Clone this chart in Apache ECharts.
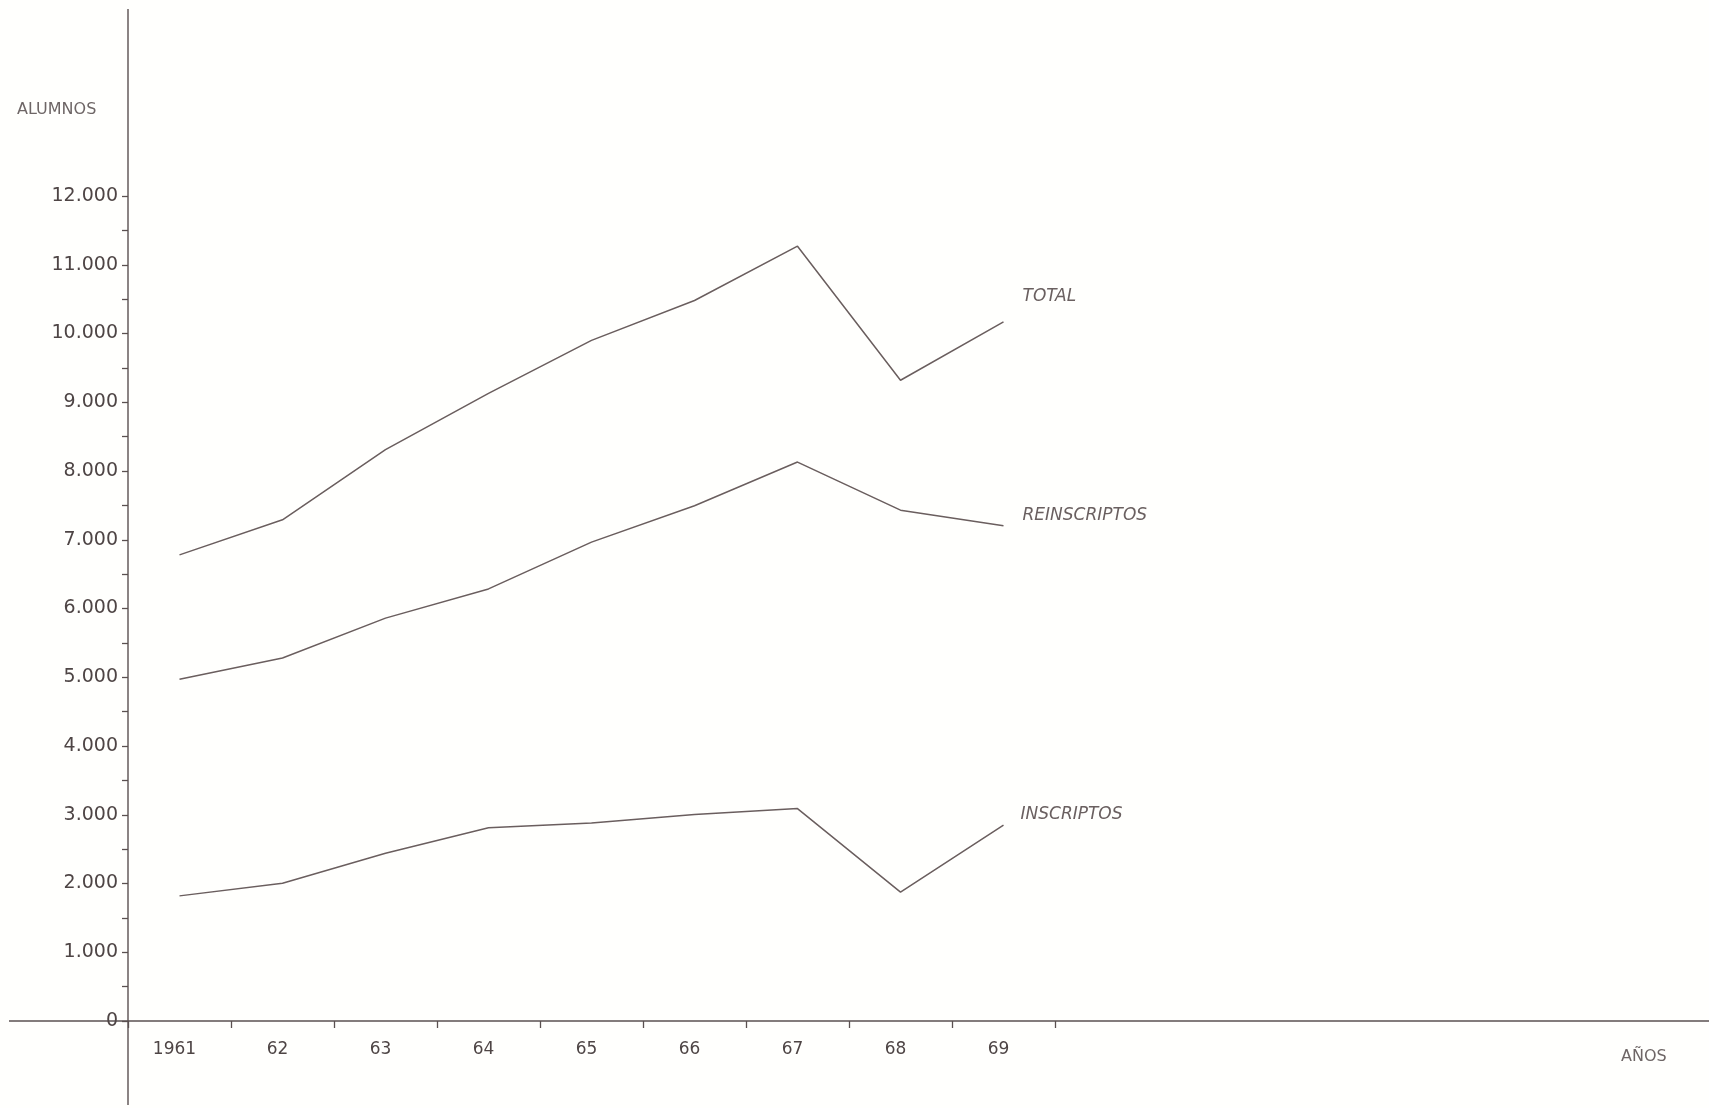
<!DOCTYPE html>
<html><head><meta charset="utf-8">
<script src="https://cdn.jsdelivr.net/npm/echarts/dist/echarts.min.js"></script>
<style>html,body{margin:0;padding:0;background:#fffffd;} #c{width:1709px;height:1108px;}</style>
</head><body><div id="c"></div>
<script>
const years = ['1961','62','63','64','65','66','67','68','69'];
const total = [6780,7290,8310,9130,9900,10480,11270,9320,10170];
const reinscriptos = [4970,5280,5860,6285,6965,7495,8130,7430,7205];
const inscriptos = [1820,2005,2440,2810,2880,3005,3090,1875,2850];
const seriesNames = ['TOTAL','REINSCRIPTOS','INSCRIPTOS'];
const yMin = 0, yMax = 12000, yStep = 1000;

const ink = '#5a5050';
const font = '"DejaVu Sans", "Liberation Sans", sans-serif';
const fmt = v => String(v).replace(/\B(?=(\d{3})+(?!\d))/g, '.');

const chart = echarts.init(document.getElementById('c'));
const G = {left:128, top:196, width:927, height:825};

function lineSeries(name, data, offset){
  return {
    name, type:'line', data, symbol:'none', smooth:false,
    lineStyle:{color:'#6a5e5e', width:1.5},
    endLabel:{show:true, formatter:name, offset, fontStyle:'italic',
      fontSize:17, color:'#6a6060', fontFamily:font},
    emphasis:{disabled:true}
  };
}

chart.setOption({
  animation:false,
  backgroundColor:'#fffffd',
  grid:{left:G.left, top:G.top, width:G.width, height:G.height},
  xAxis:{type:'category', data:years, boundaryGap:true,
    axisLine:{show:false},
    axisTick:{show:true, length:7, lineStyle:{color:ink, width:1.3}},
    axisLabel:{color:'#4e4545', fontSize:17, fontFamily:font, margin:20, padding:[0,10,0,0]}},
  yAxis:{type:'value', min:yMin, max:yMax, interval:yStep,
    axisLine:{show:false},
    axisTick:{show:true, length:6, lineStyle:{color:ink, width:1.3}},
    minorTick:{show:true, splitNumber:2, length:6, lineStyle:{color:ink, width:1.3}},
    splitLine:{show:false},
    axisLabel:{color:'#4e4545', fontSize:19, fontFamily:font, margin:10, formatter:fmt}},
  series:[
    lineSeries(seriesNames[0], total, [11,-25]),
    lineSeries(seriesNames[1], reinscriptos, [11,-10]),
    lineSeries(seriesNames[2], inscriptos, [9,-10])
  ],
  graphic:[
    {type:'line', shape:{x1:9, y1:G.top+G.height, x2:1709, y2:G.top+G.height},
      style:{stroke:ink, lineWidth:1.4}, silent:true},
    {type:'line', shape:{x1:G.left, y1:9, x2:G.left, y2:1105},
      style:{stroke:ink, lineWidth:1.4}, silent:true},
    {type:'text', left:17, top:102, silent:true,
      style:{text:'ALUMNOS', fill:'#6e6666', fontSize:16, fontFamily:font}},
    {type:'text', left:1621, top:1049, silent:true,
      style:{text:'AÑOS', fill:'#6e6666', fontSize:16, fontFamily:font}}
  ]
});
</script></body></html>
